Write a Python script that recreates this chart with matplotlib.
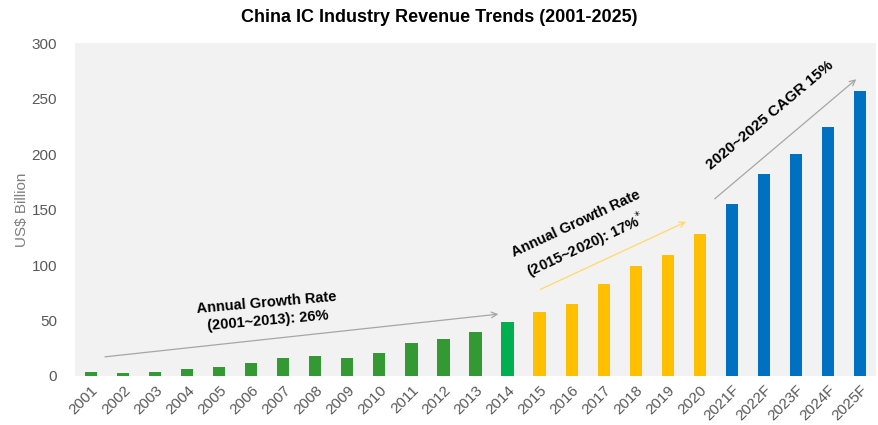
import matplotlib
matplotlib.use("Agg")
import matplotlib.pyplot as plt
import numpy as np

years = ["2001", "2002", "2003", "2004", "2005", "2006", "2007", "2008", "2009",
         "2010", "2011", "2012", "2013", "2014", "2015", "2016", "2017", "2018",
         "2019", "2020", "2021F", "2022F", "2023F", "2024F", "2025F"]
revenue = [4, 3, 4, 6, 8, 12, 16, 18, 16, 20.5, 29.5, 33, 40, 49, 58, 65, 83, 99,
           109, 128, 155, 182, 200, 224, 257]
y_ticks = [0, 50, 100, 150, 200, 250, 300]

GREEN = "#339933"
GREEN_2014 = "#00b050"
YELLOW = "#ffc000"
BLUE = "#0070c0"

colors = []
for i, y in enumerate(years):
    if y == "2014":
        colors.append(GREEN_2014)
    elif i < 13:
        colors.append(GREEN)
    elif y.endswith("F"):
        colors.append(BLUE)
    else:
        colors.append(YELLOW)

plt.rcParams["font.family"] = ["Liberation Sans", "DejaVu Sans"]

fig = plt.figure(figsize=(8.79, 4.25), dpi=100)
ax = fig.add_axes([0.0853, 0.1153, 0.9113, 0.7835])
ax.set_facecolor("#f2f2f2")

x = np.arange(len(years))
ax.bar(x, revenue, width=0.38, color=colors, zorder=2)

ax.set_xlim(-0.5, len(years) - 0.5)
ax.set_ylim(0, 300)
ax.set_yticks(y_ticks)
ax.set_xticks(x)
ax.set_xticklabels(years, rotation=45, ha="right", rotation_mode="anchor")
ax.tick_params(axis="both", length=0, colors="#595959", labelsize=11)
ax.tick_params(axis="y", pad=13)
ax.tick_params(axis="x", pad=5)
for s in ax.spines.values():
    s.set_visible(False)
ax.set_ylabel("US$ Billion", color="#7f7f7f", fontsize=11, labelpad=2)

fig.suptitle("China IC Industry Revenue Trends (2001-2025)", x=0.5, y=0.978,
             fontsize=13, fontweight="bold", color="black")

# growth trend arrows
ax.annotate("", xy=(12.8, 56), xytext=(0.35, 17),
            arrowprops=dict(arrowstyle="->", color="#a6a6a6", lw=0.9), zorder=3)
ax.annotate("", xy=(18.65, 140), xytext=(13.95, 77),
            arrowprops=dict(arrowstyle="->", color="#ffd966", lw=0.9), zorder=3)
ax.annotate("", xy=(23.95, 269), xytext=(19.4, 158),
            arrowprops=dict(arrowstyle="->", color="#a6a6a6", lw=0.9), zorder=3)

ax.text(5.5, 58, "Annual Growth Rate\n(2001~2013): 26%", rotation=5,
        ha="center", va="center", fontsize=10.5, fontweight="bold",
        rotation_mode="anchor", linespacing=1.3)
ax.text(15.3, 126, "Annual Growth Rate\n(2015~2020): 17%$^{*}$", rotation=25,
        ha="center", va="center", fontsize=10.5, fontweight="bold",
        rotation_mode="anchor", linespacing=1.3)
ax.text(21.2, 235, "2020~2025 CAGR 15%", rotation=40,
        ha="center", va="center", fontsize=11, fontweight="bold",
        rotation_mode="anchor")

fig.savefig("out.png", dpi=100)
